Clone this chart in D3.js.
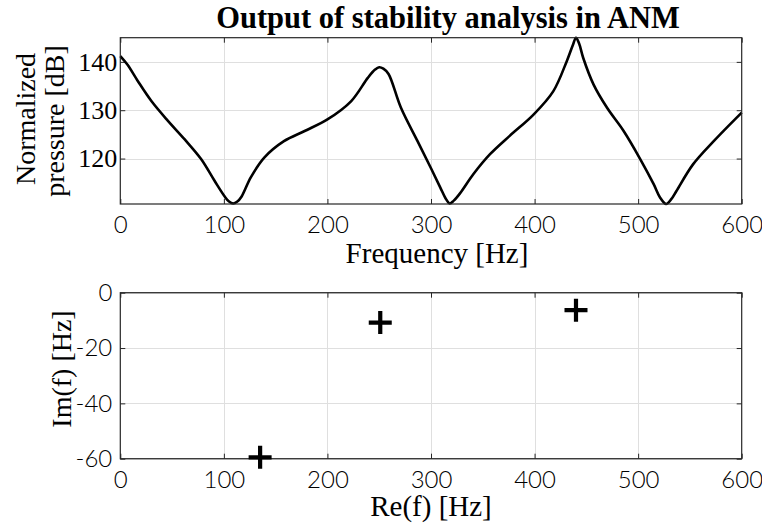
<!DOCTYPE html>
<html>
<head>
<meta charset="utf-8">
<script src="https://cdn.jsdelivr.net/npm/d3@7"></script>
<style>
  body { margin: 0; background: #fff; }
  svg { display: block; }
</style>
</head>
<body>
<svg id="chart" width="762" height="525"></svg>
<script>
  // frequency response (Hz, dB)
  var freq = [0, 7, 17, 30, 46, 62, 78, 91, 101, 105, 109, 113, 117, 126, 139, 158, 178, 200, 223, 239, 246, 250, 254, 259, 271, 287, 300, 309, 314, 318, 322, 328, 341, 357, 376, 399, 418, 431, 437, 440, 443, 447, 457, 470, 486, 502, 515, 521, 527, 532, 537, 553, 573, 600];
  var pressure = [141.2, 139.4, 136, 131.9, 127.8, 124, 119.9, 115.4, 112.1, 111.1, 110.7, 111.1, 112.1, 116.1, 120.2, 123.6, 125.7, 128.1, 131.9, 136.7, 138.4, 138.9, 138.6, 137.5, 130.5, 123.6, 118, 114, 111.8, 110.7, 111.3, 112.8, 116.8, 120.9, 124.7, 129.1, 133.9, 140.1, 143.5, 145, 143.8, 140.8, 135.3, 130.5, 125.7, 119.9, 114.7, 112, 110.6, 111.6, 113.3, 118.8, 123.6, 129.5];

  // eigenvalues from the stability analysis
  var reF = [135, 251, 440];
  var imF = [-59.5, -10.8, -6.3];

  var freqTicks = [0, 100, 200, 300, 400, 500, 600];
  var pressureTicks = [120, 130, 140];
  var imTicks = [-60, -40, -20, 0];

  var axisColor = '#262626';
  var gridColor = '#dfdfdf';
  var serif = '"Liberation Serif", "DejaVu Serif", serif';
  var sans = 'Lato, "Open Sans", sans-serif';

  var svg = d3.select('#chart');

  var left = 120.3, right = 741.7;
  var top1 = 37.7, bottom1 = 204;
  var top2 = 292.7, bottom2 = 458.7;

  var x1 = d3.scaleLinear().domain([0, 600]).range([left, right]);
  var y1 = d3.scaleLinear().domain(d3.extent(pressure)).range([bottom1, top1]);
  var x2 = d3.scaleLinear().domain([0, 600]).range([left, right]);
  var y2 = d3.scaleLinear().domain([-60, 0]).range([bottom2, top2]);

  // plain hyphen for negatives, like the original
  var plain = function(d) { return String(d); };

  /**
   * grid, box and inward ticks on all four sides
   */
  function drawFrame(x, y, xTicks, yTicks, yFont, yPad) {
    var t = y.range()[1], b = y.range()[0];
    var l = x.range()[0], r = x.range()[1];
    var h = b - t, w = r - l;

    var grid = svg.append('g').attr('class', 'grid');
    grid.append('g')
      .attr('transform', 'translate(0,' + b + ')')
      .call(d3.axisBottom(x).tickValues(xTicks.slice(1, -1)).tickSizeInner(-h).tickSizeOuter(0).tickFormat(''));
    grid.append('g')
      .attr('transform', 'translate(' + l + ',0)')
      .call(d3.axisLeft(y).tickValues(yTicks).tickSizeInner(-w).tickSizeOuter(0).tickFormat(''));
    grid.selectAll('path').remove();
    grid.selectAll('line').attr('stroke', gridColor).attr('stroke-width', 1).attr('shape-rendering', 'crispEdges');

    var ax = svg.append('g').attr('class', 'axes');
    ax.append('g').attr('class', 'xb')
      .attr('transform', 'translate(0,' + b + ')')
      .call(d3.axisBottom(x).tickValues(xTicks).tickSizeInner(-5).tickSizeOuter(0).tickPadding(12).tickFormat(plain));
    ax.append('g').attr('class', 'xt')
      .attr('transform', 'translate(0,' + t + ')')
      .call(d3.axisTop(x).tickValues(xTicks).tickSizeInner(-5).tickSizeOuter(0).tickFormat(''));
    ax.append('g').attr('class', 'yl')
      .attr('transform', 'translate(' + l + ',0)')
      .call(d3.axisLeft(y).tickValues(yTicks).tickSizeInner(-5).tickSizeOuter(0).tickPadding(yPad).tickFormat(plain));
    ax.append('g').attr('class', 'yr')
      .attr('transform', 'translate(' + r + ',0)')
      .call(d3.axisRight(y).tickValues(yTicks).tickSizeInner(-5).tickSizeOuter(0).tickFormat(''));
    ax.selectAll('path').remove();
    ax.selectAll('line').attr('stroke', axisColor).attr('stroke-width', 1);

    ax.select('.xb').selectAll('text')
      .attr('font-family', sans).attr('font-size', 24).attr('font-weight', 300).attr('fill', '#000');
    ax.select('.yl').selectAll('text')
      .attr('font-family', yFont).attr('font-size', yFont === serif ? 26 : 24).attr('font-weight', 300).attr('fill', '#000');
    ax.selectAll('.tick').attr('font-family', null).attr('font-size', null);

    return { box: [l, t, w, h] };
  }

  function drawBox(f) {
    svg.append('rect')
      .attr('x', f.box[0]).attr('y', f.box[1])
      .attr('width', f.box[2]).attr('height', f.box[3])
      .attr('fill', 'none').attr('stroke', axisColor).attr('stroke-width', 1.2);
  }

  // --- top panel: normalized pressure
  var f1 = drawFrame(x1, y1, freqTicks, pressureTicks, serif, 3);

  svg.append('clipPath').attr('id', 'clip1')
    .append('rect')
    .attr('x', left - 2).attr('y', top1 - 2)
    .attr('width', right - left + 4).attr('height', bottom1 - top1 + 4);

  var line = d3.line()
    .x(function(d) { return x1(d[0]); })
    .y(function(d) { return y1(d[1]); })
    .curve(d3.curveCatmullRom.alpha(0.5));

  svg.append('path')
    .datum(d3.zip(freq, pressure))
    .attr('clip-path', 'url(#clip1)')
    .attr('d', line)
    .attr('fill', 'none')
    .attr('stroke', '#000')
    .attr('stroke-width', 2.6)
    .attr('stroke-linejoin', 'round');

  drawBox(f1);

  // --- bottom panel: eigenvalues in complex plane
  var f2 = drawFrame(x2, y2, freqTicks, imTicks, sans, 8);
  drawBox(f2);

  svg.append('g').selectAll('path')
    .data(d3.zip(reF, imF))
    .enter().append('path')
    .attr('transform', function(d) { return 'translate(' + x2(d[0]) + ',' + y2(d[1]) + ')'; })
    .attr('d', 'M-11.5,0H11.5M0,-11.5V11.5')
    .attr('stroke', '#000')
    .attr('stroke-width', 4.2)
    .attr('fill', 'none');

  // --- titles and labels
  svg.append('text')
    .attr('x', 448).attr('y', 28)
    .attr('text-anchor', 'middle')
    .attr('font-family', serif).attr('font-weight', 'bold').attr('font-size', 30.5)
    .text('Output of stability analysis in ANM');

  svg.append('text')
    .attr('x', 437).attr('y', 263)
    .attr('text-anchor', 'middle')
    .attr('font-family', serif).attr('font-size', 29)
    .text('Frequency [Hz]');

  svg.append('text')
    .attr('x', 431).attr('y', 516)
    .attr('text-anchor', 'middle')
    .attr('font-family', serif).attr('font-size', 29)
    .text('Re(f) [Hz]');

  svg.append('text')
    .attr('transform', 'translate(35,119) rotate(-90)')
    .attr('text-anchor', 'middle')
    .attr('font-family', serif).attr('font-size', 28)
    .text('Normalized');

  svg.append('text')
    .attr('transform', 'translate(64,121) rotate(-90)')
    .attr('text-anchor', 'middle')
    .attr('font-family', serif).attr('font-size', 28)
    .text('pressure [dB]');

  svg.append('text')
    .attr('transform', 'translate(71,369) rotate(-90)')
    .attr('text-anchor', 'middle')
    .attr('font-family', serif).attr('font-size', 28)
    .text('Im(f) [Hz]');
</script>
</body>
</html>
